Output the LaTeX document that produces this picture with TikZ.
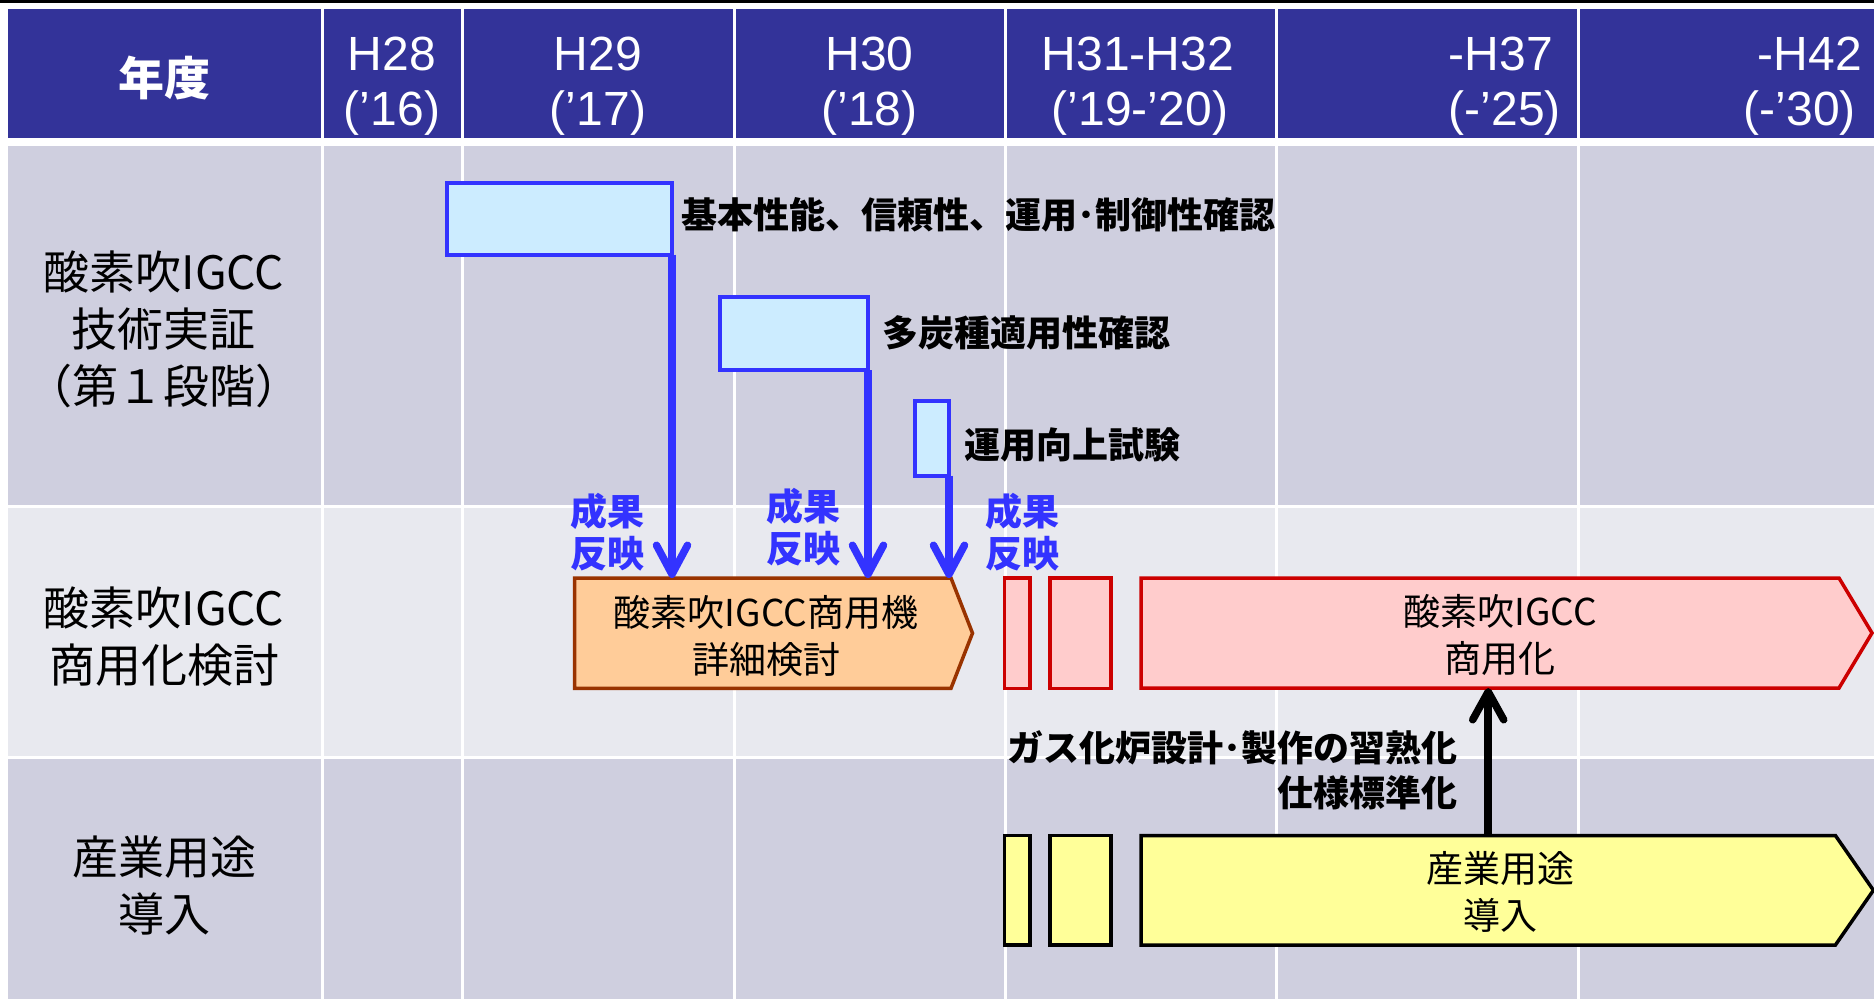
\documentclass[tikz,border=0pt]{standalone}
\usepackage{fontspec}
\newfontfamily\jp{Noto Sans CJK JP}
\newfontfamily\hd{Liberation Sans}
\usetikzlibrary{arrows.meta}
\definecolor{hdrblue}{HTML}{333399}
\definecolor{rowA}{HTML}{CFCFDF}
\definecolor{rowB}{HTML}{E8E9EF}
\definecolor{myblue}{HTML}{3333FF}
\definecolor{boxcyan}{HTML}{CCECFF}
\definecolor{ofill}{HTML}{FFCC99}
\definecolor{oline}{HTML}{993300}
\definecolor{rfill}{HTML}{FFCCCC}
\definecolor{rline}{HTML}{CC0000}
\definecolor{yfill}{HTML}{FFFF99}
\begin{document}
\begin{tikzpicture}[x=1pt,y=-1pt,
  hdr/.style={text=white, font=\hd\fontsize{48pt}{50pt}\selectfont, inner sep=0pt},
  hdrjp/.style={text=white, font=\jp\bfseries\fontsize{46pt}{50pt}\selectfont, inner sep=0pt},
  rowlbl/.style={font=\jp\fontsize{46pt}{57pt}\selectfont, align=center, inner sep=0pt},
  boxtxt/.style={font=\jp\fontsize{37pt}{47pt}\selectfont, align=center, inner sep=0pt},
  boldlbl/.style={font=\jp\bfseries\fontsize{36pt}{45pt}\selectfont, inner sep=0pt},
  bluelbl/.style={text=myblue, font=\jp\bfseries\fontsize{37pt}{42pt}\selectfont, align=center, inner sep=0pt},
  area/.style={inner sep=0pt, outer sep=0pt, anchor=north west},
  bluebox/.style={area, draw=myblue, fill=boxcyan, line width=4pt},
  redbox/.style={area, draw=rline, fill=rfill, line width=3.5pt},
  yelbox/.style={area, draw=black, fill=yfill, line width=3.5pt},
  barrow/.style={draw=myblue, line width=7.5pt, -{Straight Barb[length=29pt,width=31pt,round]}},
  karrow/.style={draw=black, line width=7.5pt, -{Straight Barb[length=28pt,width=31pt,round]}},
  gridline/.style={white, line width=3pt}
]
\fill[white] (0,0) rectangle (1874,999);
\useasboundingbox (0,0) rectangle (1874,999);
% table
\fill[black] (0,0) rectangle (1874,2.5);
\fill[hdrblue] (8,9) rectangle (1874,137.5);
\fill[rowA] (8,145.5) rectangle (1874,505);
\fill[rowB] (8,508) rectangle (1874,755.5);
\fill[rowA] (8,758.5) rectangle (1874,999);
\foreach \x in {322.5,462.5,734,1005.5,1276.5,1578.5}
  \draw[gridline] (\x,9) -- (\x,999);
% header texts
\node[hdrjp] (nendo) at (164,78) {年度};
\node[hdr, anchor=base] (h28a) at (392,70) {H28};
\node[hdr, anchor=base] (h28b) at (392,125) {(’16)};
\node[hdr, anchor=base] (h29a) at (598,70) {H29};
\node[hdr, anchor=base] (h29b) at (598,125) {(’17)};
\node[hdr, anchor=base] (h30a) at (869.5,70) {H30};
\node[hdr, anchor=base] (h30b) at (869.5,125) {(’18)};
\node[hdr, anchor=base] (h31a) at (1138,70) {H31-H32};
\node[hdr, anchor=base] (h31b) at (1140,125) {(’19-’20)};
\node[hdr, anchor=base east] (h37a) at (1553,70) {-H37};
\node[hdr, anchor=base east] (h37b) at (1561,125) {(-’25)};
\node[hdr, anchor=base east] (h42a) at (1862,70) {-H42};
\node[hdr, anchor=base east] (h42b) at (1856,125) {(-’30)};
% row labels
\node[rowlbl] (rl1) at (164,329.5) {酸素吹IGCC\\技術実証\\（第１段階）};
\node[rowlbl] (rl2) at (164,637) {酸素吹IGCC\\商用化検討};
\node[rowlbl] (rl3) at (164,885) {産業用途\\導入};
% blue boxes
\node[bluebox, minimum width=225pt, minimum height=72pt] (b1) at (447,182.5) {};
\node[bluebox, minimum width=148.5pt, minimum height=73.5pt] (b2) at (719.5,296.5) {};
\node[bluebox, minimum width=34.5pt, minimum height=75pt] (b3) at (914.5,400.5) {};
\node[boldlbl, anchor=west] (t1) at (681,215) {基本性能、信頼性、運用･制御性確認};
\node[boldlbl, anchor=west] (t2) at (882,333) {多炭種適用性確認};
\node[boldlbl, anchor=west] (t3) at (964,445) {運用向上試験};
% orange arrow box
\node[area, minimum width=376.4pt, minimum height=110.3pt] (ob) at (574.6,578) {};
\filldraw[fill=ofill, draw=oline, line width=3.5pt, line join=miter]
  (ob.north west) -- (ob.north east) -- ([xshift=21.5pt]ob.east) -- (ob.south east) -- (ob.south west) -- cycle;
\node[boxtxt] (obt) at (766,636) {酸素吹IGCC商用機\\詳細検討};
% red boxes
\node[redbox, minimum width=25.3pt, minimum height=110.5pt] (ra) at (1004.5,578) {};
\node[redbox, minimum width=61pt, minimum height=110.5pt] (rb) at (1050,578) {};
\node[area, minimum width=698pt, minimum height=110pt] (rm) at (1141,578) {};
\filldraw[fill=rfill, draw=rline, line width=3.5pt, line join=miter]
  (rm.north west) -- (rm.north east) -- ([xshift=33pt]rm.east) -- (rm.south east) -- (rm.south west) -- cycle;
\node[boxtxt] (rmt) at (1500,634.5) {酸素吹IGCC\\商用化};
% yellow boxes
\node[yelbox, minimum width=25.3pt, minimum height=109.5pt] (ya) at (1004.5,835.5) {};
\node[yelbox, minimum width=61pt, minimum height=109.5pt] (yb) at (1050,835.5) {};
\node[area, minimum width=694.4pt, minimum height=109.5pt] (ym) at (1141,835.5) {};
\filldraw[fill=yfill, draw=black, line width=3.5pt, line join=miter]
  (ym.north west) -- (ym.north east) -- ([xshift=38pt]ym.east) -- (ym.south east) -- (ym.south west) -- cycle;
\node[boxtxt] (ymt) at (1500,892) {産業用途\\導入};
% blue arrows and labels
\draw[barrow] (b1.south east) -- (b1.south east |- ob.north);
\draw[barrow] (b2.south east) -- (b2.south east |- ob.north);
\draw[barrow] (b3.south east) -- (b3.south east |- ob.north);
\node[bluelbl] (s1) at (607,532) {成果\\反映};
\node[bluelbl] (s2) at (803,527.5) {成果\\反映};
\node[bluelbl] (s3) at (1022,532) {成果\\反映};
% black arrow and label
\draw[karrow] (ym.north) -- (ym.north |- rm.south);
\node[boldlbl, align=right, anchor=east] (kl) at (1458,770) {ガス化炉設計･製作の習熟化\\仕様標準化};
\end{tikzpicture}
\end{document}
